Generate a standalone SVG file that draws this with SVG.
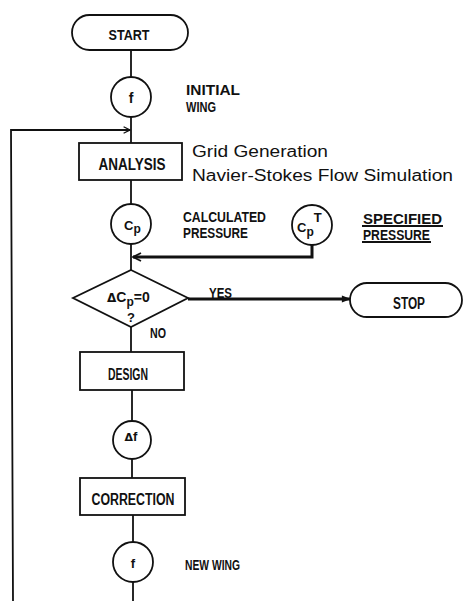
<svg xmlns="http://www.w3.org/2000/svg" width="464" height="601" viewBox="0 0 464 601">
<style>
.shape{fill:#fff;stroke:#111;stroke-width:1.8}
.ln{fill:none;stroke:#111;stroke-width:1.8}
.thick{fill:none;stroke:#111;stroke-width:3}
.lab{font-family:"Liberation Sans",Arial,sans-serif;font-weight:bold;fill:#111}
.hel{font-family:"Liberation Sans",Arial,sans-serif;fill:#111;font-size:16px}
.sym{font-family:"DejaVu Sans","Liberation Sans",sans-serif;fill:#111}
</style>
<defs>
<marker id="chev" viewBox="0 0 10 10" refX="9" refY="5" markerWidth="8" markerHeight="8" markerUnits="userSpaceOnUse" orient="auto">
<path d="M1,1 L9,5 L1,9" fill="none" stroke="#111" stroke-width="1.6"/>
</marker>
<marker id="chevT" viewBox="0 0 10 10" refX="9" refY="5" markerWidth="10" markerHeight="10" markerUnits="userSpaceOnUse" orient="auto">
<path d="M1,1 L9,5 L1,9" fill="none" stroke="#111" stroke-width="1.8"/>
</marker>
<marker id="tri" viewBox="0 0 10 10" refX="9" refY="5" markerWidth="10" markerHeight="9" markerUnits="userSpaceOnUse" orient="auto">
<path d="M0,1 L10,5 L0,9 Z" fill="#111"/>
</marker>
</defs>

<g id="connectors">
<path class="ln" d="M131,50 V78"/>
<path class="ln" d="M131,117 V143"/>
<path class="ln" d="M131,180 V204"/>
<path class="ln" d="M131,244 V270"/>
<path class="ln" d="M131,327 V352"/>
<path class="ln" d="M132,390 V421"/>
<path class="ln" d="M132,459 V478"/>
<path class="ln" d="M133,515 V542"/>
<path class="ln" d="M133,582 V601"/>
<path class="ln" d="M13,601 L11,130 H130" marker-end="url(#chev)"/>
<path class="thick" d="M312,245 V257 H133" marker-end="url(#chevT)"/>
<path class="thick" d="M188,299 H350" marker-end="url(#tri)"/>
</g>

<g id="start">
<rect class="shape" x="72" y="15" width="116" height="35" rx="17.5"/>
<text class="lab" x="129" y="40" font-size="15" text-anchor="middle" textLength="41" lengthAdjust="spacingAndGlyphs">START</text>
</g>

<g id="f-initial">
<circle class="shape" cx="131" cy="97" r="20"/>
<text class="lab" x="131" y="103" font-size="14" text-anchor="middle">f</text>
<text class="lab" x="186" y="95" font-size="14" textLength="54" lengthAdjust="spacingAndGlyphs">INITIAL</text>
<text class="lab" x="186" y="112" font-size="14" textLength="30" lengthAdjust="spacingAndGlyphs">WING</text>
</g>

<g id="analysis">
<rect class="shape" x="79" y="143" width="103" height="37"/>
<text class="lab" x="132" y="170" font-size="17" text-anchor="middle" textLength="67" lengthAdjust="spacingAndGlyphs">ANALYSIS</text>
<text class="hel" x="192" y="157" textLength="136" lengthAdjust="spacingAndGlyphs">Grid Generation</text>
<text class="hel" x="192" y="181" textLength="261" lengthAdjust="spacingAndGlyphs">Navier-Stokes Flow Simulation</text>
</g>

<g id="cp">
<circle class="shape" cx="131" cy="224" r="20"/>
<text class="lab" x="124" y="230" font-size="13">C<tspan font-size="12" dy="3">p</tspan></text>
<text class="lab" x="183" y="222" font-size="14" textLength="83" lengthAdjust="spacingAndGlyphs">CALCULATED</text>
<text class="lab" x="183" y="238" font-size="14" textLength="65" lengthAdjust="spacingAndGlyphs">PRESSURE</text>
</g>

<g id="cpt">
<circle class="shape" cx="312" cy="225" r="20"/>
<text class="lab" x="297" y="232" font-size="13">C<tspan font-size="12" dy="4">p</tspan><tspan font-size="13" dy="-14">T</tspan></text>
<text class="lab" x="363" y="224" font-size="14" textLength="79" lengthAdjust="spacingAndGlyphs">SPECIFIED</text>
<text class="lab" x="363" y="240" font-size="14" textLength="67" lengthAdjust="spacingAndGlyphs">PRESSURE</text>
<path class="ln" d="M362,226 H443 M362,242 H431" stroke-width="1.3"/>
</g>

<g id="decision">
<polygon class="shape" points="131,270 188,298 131,327 73,298"/>
<text class="lab" x="107" y="302" font-size="14"><tspan class="sym" font-weight="bold" font-size="12">Δ</tspan>C<tspan font-size="12" dy="4">p</tspan><tspan dy="-4">=0</tspan></text>
<text class="lab" x="131" y="322" font-size="13" text-anchor="middle">?</text>
<text class="lab" x="209" y="298" font-size="14" textLength="23" lengthAdjust="spacingAndGlyphs">YES</text>
<text class="lab" x="150" y="338" font-size="14" textLength="16" lengthAdjust="spacingAndGlyphs">NO</text>
</g>

<g id="stop">
<rect class="shape" x="350" y="283" width="112" height="34" rx="17"/>
<text class="lab" x="409" y="309" font-size="16" text-anchor="middle" textLength="32" lengthAdjust="spacingAndGlyphs">STOP</text>
</g>

<g id="design">
<rect class="shape" x="80" y="352" width="104" height="38"/>
<text class="lab" x="128" y="380" font-size="16" text-anchor="middle" textLength="40" lengthAdjust="spacingAndGlyphs">DESIGN</text>
</g>

<g id="delta-f">
<circle class="shape" cx="132" cy="440" r="19"/>
<text class="lab" x="131" y="441" font-size="13" text-anchor="middle"><tspan class="sym" font-weight="bold" font-size="11">Δ</tspan>f</text>
</g>

<g id="correction">
<rect class="shape" x="80" y="478" width="105" height="37"/>
<text class="lab" x="133" y="505" font-size="16" text-anchor="middle" textLength="83" lengthAdjust="spacingAndGlyphs">CORRECTION</text>
</g>

<g id="f-new">
<circle class="shape" cx="133" cy="562" r="20"/>
<text class="lab" x="133" y="568" font-size="13" text-anchor="middle">f</text>
<text class="lab" x="185" y="570" font-size="15" textLength="55" lengthAdjust="spacingAndGlyphs">NEW WING</text>
</g>
</svg>
